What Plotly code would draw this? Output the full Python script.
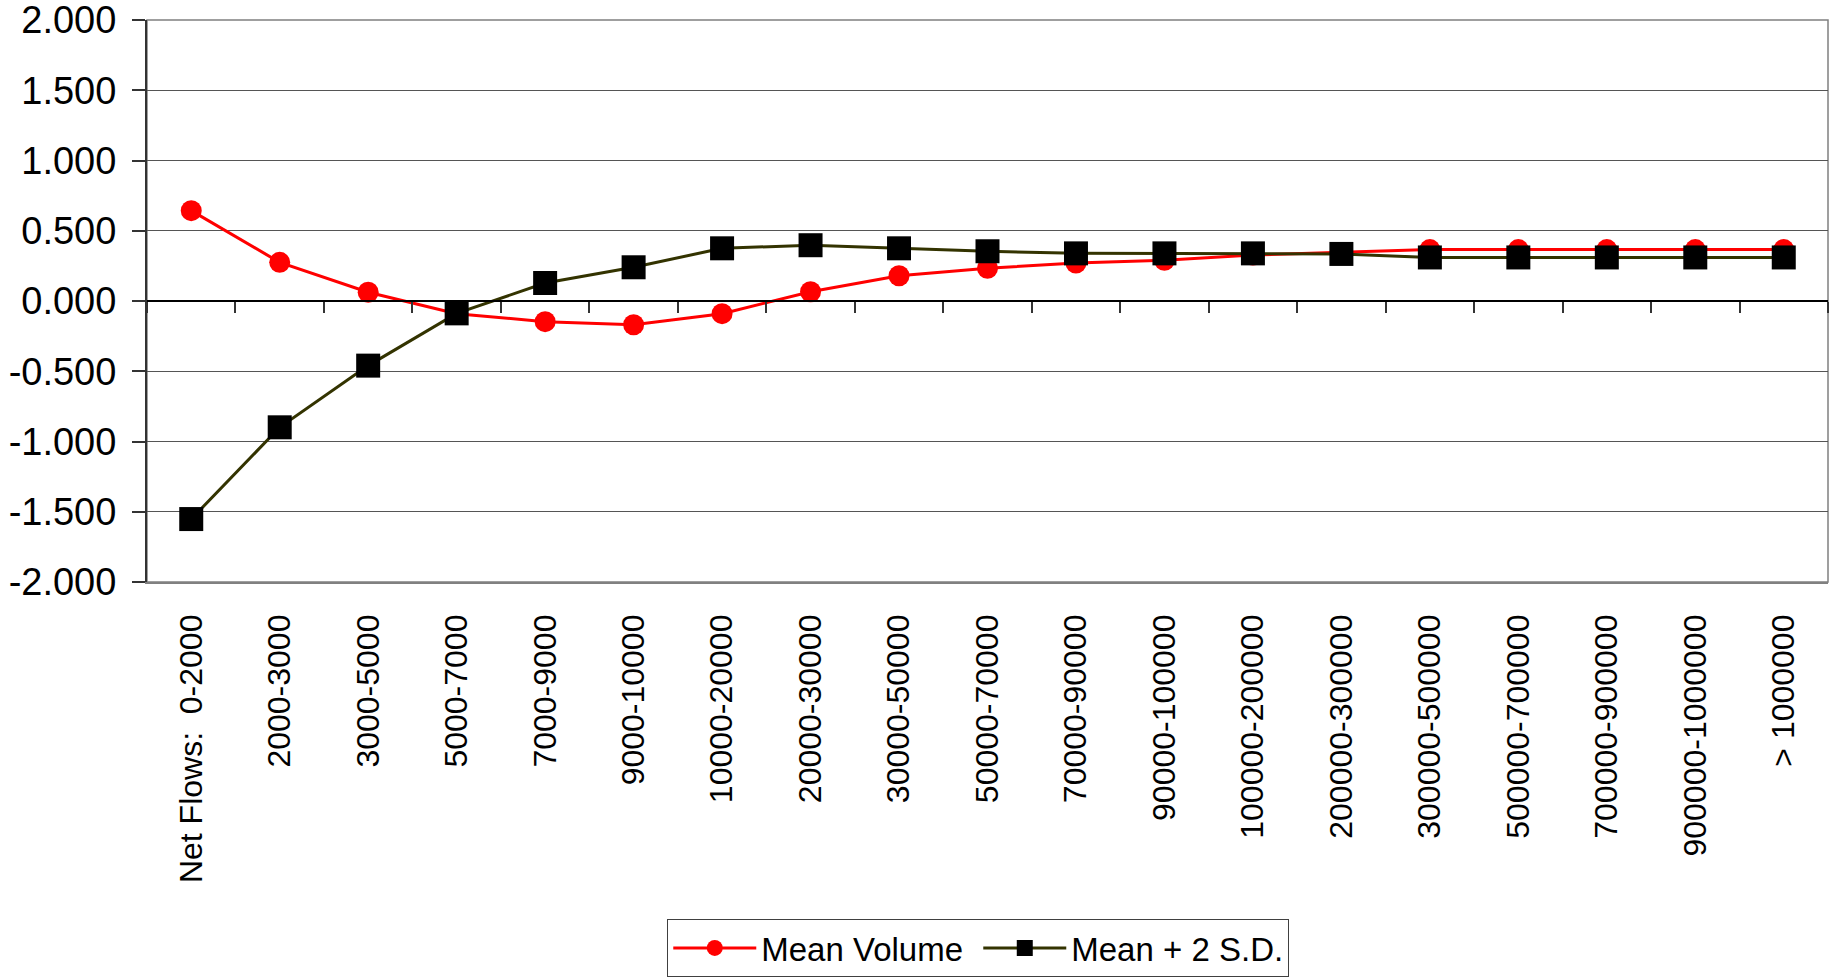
import plotly.graph_objects as go

# Flow-size buckets along the category axis
categories = [
    "Net Flows:\u00a0\u00a00-2000", "2000-3000", "3000-5000", "5000-7000", "7000-9000",
    "9000-10000", "10000-20000", "20000-30000", "30000-50000", "50000-70000",
    "70000-90000", "90000-100000", "100000-200000", "200000-300000",
    "300000-500000", "500000-700000", "700000-900000", "900000-1000000",
    "> 1000000",
]

mean_volume = [0.643, 0.275, 0.062, -0.090, -0.147, -0.169, -0.090, 0.066, 0.180,
               0.233, 0.270, 0.290, 0.327, 0.346, 0.366, 0.366, 0.366, 0.366, 0.366]

mean_plus_2sd = [-1.552, -0.899, -0.460, -0.088, 0.128, 0.240, 0.375, 0.397, 0.375,
                 0.354, 0.339, 0.339, 0.339, 0.335, 0.310, 0.310, 0.310, 0.310, 0.310]

y_ticks = [-2.0, -1.5, -1.0, -0.5, 0.0, 0.5, 1.0, 1.5, 2.0]
y_tick_text = [f"{v:.3f}" for v in y_ticks]  # plain hyphen-minus, three decimals

idx = list(range(len(categories)))
bounds = [i - 0.5 for i in range(len(categories) + 1)]

FONT = "Liberation Sans, Arial, sans-serif"

fig = go.Figure()

fig.add_trace(go.Scatter(
    x=idx, y=mean_volume, name="Mean Volume", mode="lines+markers",
    line=dict(color="#FF0000", width=3),
    marker=dict(symbol="circle", size=21, color="#FF0000"),
))
fig.add_trace(go.Scatter(
    x=idx, y=mean_plus_2sd, name="Mean + 2 S.D.", mode="lines+markers",
    line=dict(color="#333300", width=3),
    marker=dict(symbol="square", size=24, color="#000000"),
))
# invisible carrier so the category axis crossing at zero is drawn
fig.add_trace(go.Scatter(
    x=idx, y=mean_volume, xaxis="x2", mode="lines",
    line=dict(width=0), opacity=0, showlegend=False, hoverinfo="skip",
))

fig.update_layout(
    width=1835, height=979,
    margin=dict(l=147, r=7, t=20, b=397, autoexpand=False),
    paper_bgcolor="white", plot_bgcolor="white",
    font=dict(family=FONT, color="black"),
    showlegend=True,
    xaxis=dict(
        range=[-0.5, len(categories) - 0.5],
        tickmode="array", tickvals=idx, ticktext=categories,
        tickangle=-90, tickfont=dict(size=32, family=FONT),
        ticks="", showgrid=False, zeroline=False, automargin=False,
        showline=True, linecolor="#808080", linewidth=1.5,
        ticklabelstandoff=18,
    ),
    xaxis2=dict(
        overlaying="x", anchor="free", position=0.5,
        range=[-0.5, len(categories) - 0.5],
        tickmode="array", tickvals=bounds, showticklabels=False,
        ticks="outside", ticklen=11, tickwidth=1.5, tickcolor="#333333",
        showline=True, linecolor="#000000", linewidth=1.5,
        showgrid=False, zeroline=False, automargin=False,
    ),
    yaxis=dict(
        range=[-2, 2], tickmode="array", tickvals=y_ticks, ticktext=y_tick_text,
        tickfont=dict(size=38, family=FONT),
        ticks="outside", ticklen=13, tickcolor="#333333", tickwidth=1.5,
        ticklabelstandoff=8, ticklabeloverflow="allow", automargin=False,
        showgrid=True, gridcolor="#555555", gridwidth=1,
        zeroline=False, showline=True, linecolor="#333333", linewidth=2,
    ),
    legend=dict(
        orientation="h", x=0.3095, xanchor="left", y=-0.5996, yanchor="top",
        bordercolor="#404040", borderwidth=1, bgcolor="white",
        font=dict(size=33, family=FONT), itemsizing="trace",
        itemwidth=83, entrywidth=212, entrywidthmode="pixels",
    ),
    shapes=[dict(
        type="rect", xref="paper", yref="paper", x0=0, x1=1, y0=0, y1=1,
        line=dict(color="#808080", width=1.5), layer="below",
    )],
)

fig.write_html("out.html")
